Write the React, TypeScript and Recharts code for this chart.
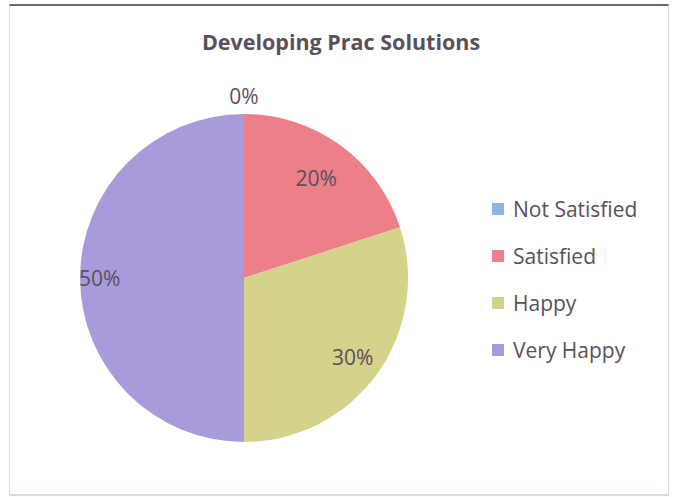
import React from "react";
import { PieChart, Pie, Cell, Legend } from "recharts";

const categories = ["Not Satisfied", "Satisfied", "Happy", "Very Happy"];
const shares = [0, 20, 30, 50];
const colors = ["#8fb3e2", "#ec7f87", "#d5d28b", "#a99adb"];

const title = "Developing Prac Solutions";

const data = categories.map((name, i) => ({ name, value: shares[i], color: colors[i] }));

const FONT = "'Open Sans', 'Liberation Sans', sans-serif";
const TEXT = "#5a4f5c";
const RAD = Math.PI / 180;
// Excel "best fit" placement, as a fraction of the radius
const labelReach = [1.11, 0.75, 0.82, 0.88];

function renderLabel(props: any) {
    const { cx, cy, midAngle, outerRadius, percent, index } = props;
    const r = outerRadius * labelReach[index];
    const x = cx + r * Math.cos(-midAngle * RAD);
    const y = cy + r * Math.sin(-midAngle * RAD);
    return (
        <text
            x={x}
            y={y}
            fill={TEXT}
            fontSize={21}
            fontFamily={FONT}
            textAnchor="middle"
            dominantBaseline="central"
        >
            {`${Math.round(percent * 100)}%`}
        </text>
    );
}

function renderLegend(props: any) {
    // keep the series order, not the alphabetical one
    const payload = [...(props.payload || [])].sort(
        (a: any, b: any) => categories.indexOf(a.value) - categories.indexOf(b.value)
    );
    return (
        <div style={{ fontFamily: FONT }}>
            {payload.map((entry: any, i: number) => (
                <div
                    key={`leg-${i}`}
                    style={{ display: "flex", alignItems: "center", height: 47 }}
                >
                    <span
                        style={{
                            width: 12,
                            height: 12,
                            background: entry.color,
                            marginRight: 9,
                            display: "inline-block",
                        }}
                    />
                    <span style={{ fontSize: 21, color: TEXT, whiteSpace: "nowrap" }}>
                        {entry.value}
                    </span>
                </div>
            ))}
        </div>
    );
}

export default function App() {
    return (
        <div
            style={{
                position: "absolute",
                left: 0,
                top: 0,
                width: 675,
                height: 497,
                background: "#fff",
                overflow: "hidden",
            }}
        >
            {/* chart frame */}
            <div
                style={{
                    position: "absolute",
                    left: 9,
                    top: 4,
                    width: 658,
                    height: 488,
                    borderLeft: "1px solid #e2d3dc",
                    borderRight: "1px solid #e2d3dc",
                    borderBottom: "2px solid #ead3df",
                    borderTop: "2px solid #6f6672",
                }}
            />
            <div
                style={{
                    position: "absolute",
                    left: 0,
                    top: 27,
                    width: 682,
                    textAlign: "center",
                    fontFamily: FONT,
                    fontWeight: 700,
                    fontSize: 21.5,
                    color: TEXT,
                }}
            >
                {title}
            </div>
            <div style={{ position: "absolute", left: 0, top: 0 }}>
                <PieChart width={675} height={497} margin={{ top: 0, right: 0, bottom: 0, left: 0 }}>
                    <Pie
                        data={data}
                        dataKey="value"
                        nameKey="name"
                        cx={244}
                        cy={278}
                        outerRadius={164}
                        startAngle={90}
                        endAngle={-270}
                        stroke="none"
                        label={renderLabel}
                        labelLine={false}
                        isAnimationActive={false}
                    >
                        {data.map((entry, index) => (
                            <Cell key={`cell-${index}`} fill={entry.color} />
                        ))}
                    </Pie>
                    <Legend
                        layout="vertical"
                        verticalAlign="top"
                        align="right"
                        content={renderLegend}
                        wrapperStyle={{ left: 492, top: 185, width: 175 }}
                    />
                </PieChart>
            </div>
        </div>
    );
}
